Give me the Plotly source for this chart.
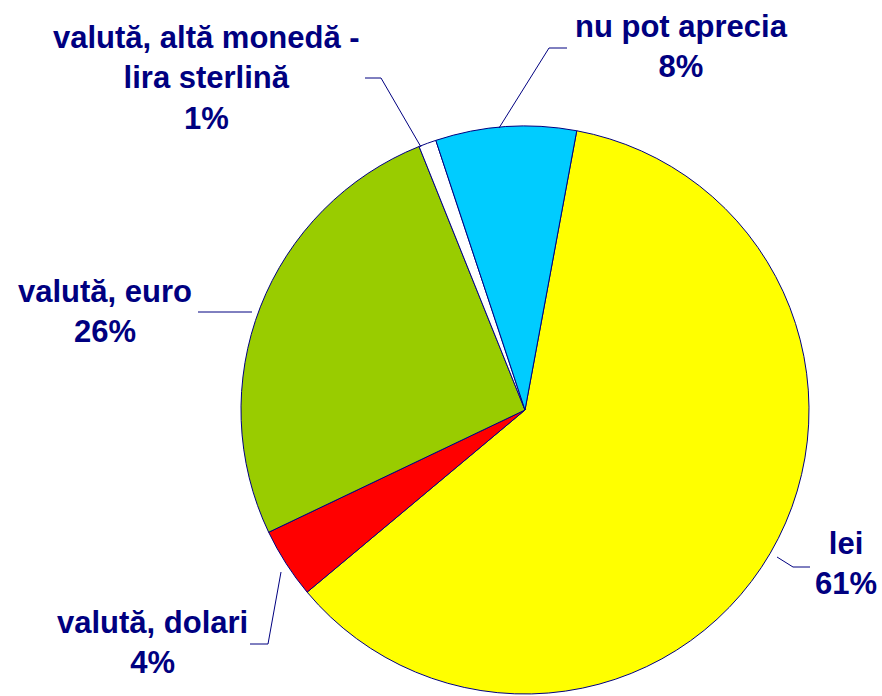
import plotly.graph_objects as go

# ---- data ----
categories = ["lei", "valută, dolari", "valută, euro",
              "valută, altă monedă - lira sterlină", "nu pot aprecia"]
values = [61, 4, 26, 1, 8]

# ---- style ----
colors = ["#FFFF00", "#FF0000", "#99CC00", "#FFFFFF", "#00CCFF"]
NAVY = "#000080"
W, H = 882, 696
CX, CY, R = 525, 410, 284

# label centres (pixels) and leader polylines (pixels)
label_pos = [(846, 563), (152, 642), (105, 311), (206, 78), (681, 47)]
leaders = [
    [(810, 567), (793, 567), (777, 557)],
    [(250, 644), (268, 644), (281, 572)],
    [(198, 312), (252, 312)],
    [(365, 78), (381, 78), (421, 147)],
    [(567, 48), (549, 48), (499, 128)],
]


def px(x):
    return x / W


def py(y):
    return 1 - y / H


fig = go.Figure(go.Pie(
    labels=categories,
    values=values,
    sort=False,
    direction="clockwise",
    rotation=10.5,
    marker=dict(colors=colors, line=dict(color=NAVY, width=1)),
    textinfo="none",
    hoverinfo="label+percent",
    domain=dict(x=[px(CX - R), px(CX + R)], y=[py(CY + R), py(CY - R)]),
    showlegend=False,
))

annotations = []
for cat, v, (lx, ly) in zip(categories, values, label_pos):
    txt = cat.replace(" - ", " -<br>") + "<br>" + f"{v}%"
    annotations.append(dict(
        x=px(lx), y=py(ly), xref="paper", yref="paper",
        text=txt, showarrow=False, xanchor="center", yanchor="middle",
        align="center",
        font=dict(family="Liberation Sans, Arial, sans-serif", size=31,
                  color=NAVY, weight="bold"),
    ))

shapes = []
for pts in leaders:
    path = "M " + " L ".join(f"{px(x)},{py(y)}" for x, y in pts)
    shapes.append(dict(type="path", path=path, xref="paper", yref="paper",
                       line=dict(color=NAVY, width=1)))

fig.update_layout(
    width=W, height=H,
    margin=dict(l=0, r=0, t=0, b=0),
    paper_bgcolor="white", plot_bgcolor="white",
    annotations=annotations,
    shapes=shapes,
)

fig.write_html(
    "out.html",
    config={"displayModeBar": False},
    post_script="document.body.style.margin='0';document.body.style.overflow='hidden';",
)
